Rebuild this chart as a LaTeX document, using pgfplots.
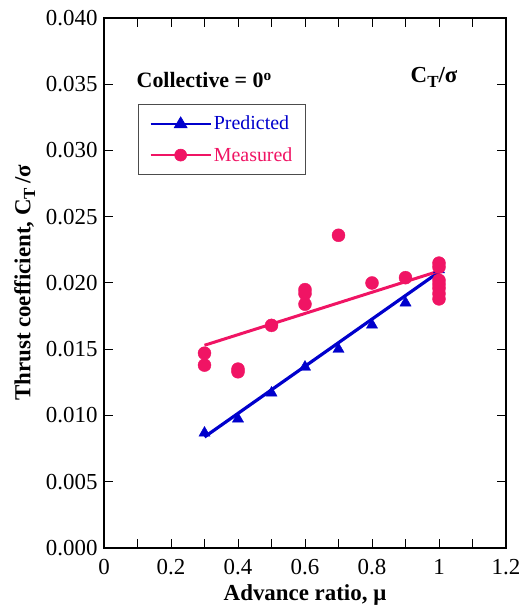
\documentclass[border=0pt]{standalone}
\usepackage{pgfplots}
\pgfplotsset{compat=1.18}
\usepackage{fontspec}
\setmainfont{Liberation Serif}
\definecolor{predblue}{RGB}{0,0,204}
\definecolor{measpink}{RGB}{240,20,100}
\begin{document}
\begin{tikzpicture}[x=1bp,y=1bp]
\begin{axis}[
  scale only axis,
  width=402bp, height=530bp,
  xmin=0, xmax=1.2, ymin=0, ymax=0.04,
  xtick={0,0.2,...,1.2},
  xticklabels={0,0.2,0.4,0.6,0.8,1,1.2},
  minor x tick num=1,
  ytick={0,0.005,...,0.0401},
  yticklabel style={/pgf/number format/fixed,/pgf/number format/fixed zerofill,/pgf/number format/precision=3, xshift=-3bp},
  xticklabel style={yshift=-8bp},
  scaled y ticks=false,
  /pgf/number format/assume math mode=true,
  tick align=inside,
  major tick length=9bp, minor tick length=9bp,
  axis line style={line width=1.6pt},
  tick style={line width=1pt,black},
  every tick label/.append style={font=\fontsize{23}{25}\selectfont},
  xlabel={\textbf{Advance ratio, μ}},
  ylabel={\textbf{Thrust coefficient, C\raisebox{-0.45ex}{\fontsize{17}{17}\selectfont T}\,/σ}},
  label style={font=\fontsize{23}{25}\selectfont},
  xlabel style={yshift=-3bp},
  ylabel style={yshift=4bp},
  legend style={at={(0.085,0.838)},anchor=north west, draw=black!70, line width=0.6pt,
    font=\fontsize{20}{22}\selectfont, inner xsep=11bp, inner ysep=10bp, row sep=12bp,
    /tikz/every even column/.append style={column sep=5bp}},
  legend cell align=left,
  clip=false,
]
% Predicted
\addplot[predblue, line width=3.2pt, forget plot] coordinates {(0.3,0.00838) (1.0,0.02083)};
\addplot[predblue, only marks, mark=triangle*, mark size=6.5bp,
  legend image code/.code={\draw[predblue,line width=2.4pt] (0bp,0bp) -- (60bp,0bp);
    \fill[predblue] (30bp,7bp) -- (23.5bp,-4bp) -- (36.5bp,-4bp) -- cycle;}] coordinates {
(0.3,0.00868) (0.4,0.00974) (0.5,0.0117) (0.6,0.01366) (0.7,0.0150) (0.8,0.01683) (0.9,0.01850) (1.0,0.0210)};
\addlegendentry{\textcolor{predblue}{Predicted}}
% Measured
\addplot[measpink, line width=3pt, forget plot] coordinates {(0.3,0.01530) (1.0,0.02090)};
\addplot[measpink, only marks, mark=*, mark size=6.5bp,
  legend image code/.code={\draw[measpink,line width=2.4pt] (0bp,0bp) -- (60bp,0bp);
    \fill[measpink] (30bp,0bp) circle (6bp);}] coordinates {
(0.3,0.0147) (0.3,0.0138)
(0.4,0.0135) (0.4,0.0133)
(0.5,0.0168)
(0.6,0.0195) (0.6,0.0192) (0.6,0.0184)
(0.7,0.0236)
(0.8,0.0200)
(0.9,0.0204)
(1.0,0.0215) (1.0,0.0212) (1.0,0.0202) (1.0,0.0199) (1.0,0.0196) (1.0,0.0192) (1.0,0.0188)};
\addlegendentry{\textcolor{measpink}{Measured}}
\node[anchor=west, font=\fontsize{22}{24}\selectfont\bfseries, inner sep=0pt] at (axis cs:0.097,0.0353) {Collective = 0\textsuperscript{o}};
\node[anchor=west, font=\fontsize{23}{25}\selectfont\bfseries, inner sep=0pt] at (axis cs:0.915,0.0355) {C\raisebox{-0.45ex}{\fontsize{17}{17}\selectfont T}/σ};
\end{axis}
\pgfresetboundingbox
\path ([shift={(-104bp,-63bp)}]current axis.south west) rectangle ([shift={(22bp,18bp)}]current axis.north east);
\end{tikzpicture}
\end{document}
